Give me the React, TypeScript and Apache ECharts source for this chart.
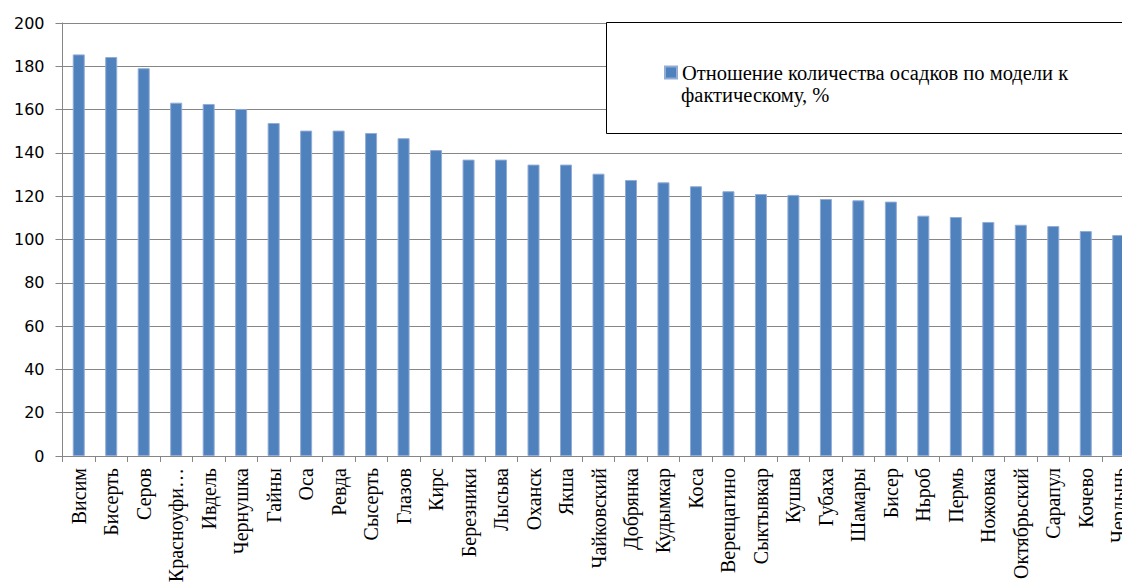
import React, { useEffect, useRef } from "react";
import * as echarts from "echarts";

const categories: string[] = [
  "Висим", "Бисерть", "Серов", "Красноуфи…", "Ивдель", "Чернушка", "Гайны", "Оса",
  "Ревда", "Сысерть", "Глазов", "Кирс", "Березники", "Лысьва", "Оханск", "Якша",
  "Чайковский", "Добрянка", "Кудымкар", "Коса", "Верещагино", "Сыктывкар", "Кушва",
  "Губаха", "Шамары", "Бисер", "Ньроб", "Пермь", "Ножовка", "Октябрьский", "Сарапул",
  "Кочево", "Чердынь",
];

const values: number[] = [
  185.5, 184.3, 179.1, 163.2, 162.6, 160.3, 153.8, 150.3, 150.3, 149.2, 146.8, 141.3,
  136.9, 136.9, 134.6, 134.6, 130.4, 127.5, 126.4, 124.6, 122.3, 121.0, 120.6, 118.7,
  118.1, 117.5, 111.0, 110.4, 108.1, 106.8, 106.2, 103.9, 102.1,
];

const seriesName = "Отношение количества осадков по модели к фактическому, %";
const legendLine1 = "Отношение количества осадков по модели к";
const legendLine2 = "фактическому, %";

const yMin = 0;
const yMax = 200;
const yStep = 20;

export default function App() {
  const ref = useRef<HTMLDivElement>(null);

  useEffect(() => {
    if (!ref.current) return;
    const chart = echarts.init(ref.current, undefined, { renderer: "svg" });
    const serif = "'Liberation Serif', 'Times New Roman', serif";
    chart.setOption({
      animation: false,
      backgroundColor: "#ffffff",
      grid: {
        left: 62.5,
        top: 23,
        right: -12.5,
        bottom: 128,
        containLabel: false,
        outerBoundsMode: "none",
      },
      xAxis: {
        type: "category",
        data: categories,
        boundaryGap: true,
        axisLine: { show: true, lineStyle: { color: "#868686", width: 1 } },
        axisTick: { show: true, length: 6, interval: 0, lineStyle: { color: "#868686" } },
        axisLabel: {
          interval: 0,
          rotate: 90,
          margin: 12,
          fontFamily: serif,
          fontSize: 20,
          color: "#000000",
        },
        splitLine: { show: false },
      },
      yAxis: {
        type: "value",
        min: yMin,
        max: yMax,
        interval: yStep,
        axisLine: { show: true, lineStyle: { color: "#868686", width: 1 } },
        axisTick: { show: true, length: 7, lineStyle: { color: "#868686" } },
        axisLabel: {
          margin: 18,
          fontFamily: "'DejaVu Sans', sans-serif",
          fontSize: 16,
          color: "#000000",
        },
        splitLine: { show: true, lineStyle: { color: "#868686", width: 1 } },
      },
      legend: {
        show: true,
        left: 664,
        top: 62,
        padding: 0,
        itemWidth: 12,
        itemHeight: 12,
        icon: "rect",
        z: 10,
        data: [seriesName],
        formatter: () => legendLine1,
        textStyle: { fontFamily: serif, fontSize: 20.5, color: "#000000" },
      },
      graphic: [
        {
          type: "rect",
          z: 5,
          shape: { x: 606.5, y: 22.5, width: 640, height: 111 },
          style: { fill: "#ffffff", stroke: "#000000", lineWidth: 1 },
        },
        {
          type: "text",
          z: 10,
          x: 681,
          y: 95,
          style: {
            text: legendLine2,
            font: "20.5px 'Liberation Serif', 'Times New Roman', serif",
            fill: "#000000",
            verticalAlign: "middle",
            align: "left",
          },
        },
      ],
      series: [
        {
          name: seriesName,
          type: "bar",
          data: values,
          barWidth: 12,
          itemStyle: { color: "#4f81bd", borderColor: "#92acd6", borderWidth: 1 },
        },
      ],
    });
    return () => chart.dispose();
  }, []);

  return (
    <div
      ref={ref}
      style={{ position: "fixed", left: 0, top: 0, width: 1122, height: 584 }}
    />
  );
}
